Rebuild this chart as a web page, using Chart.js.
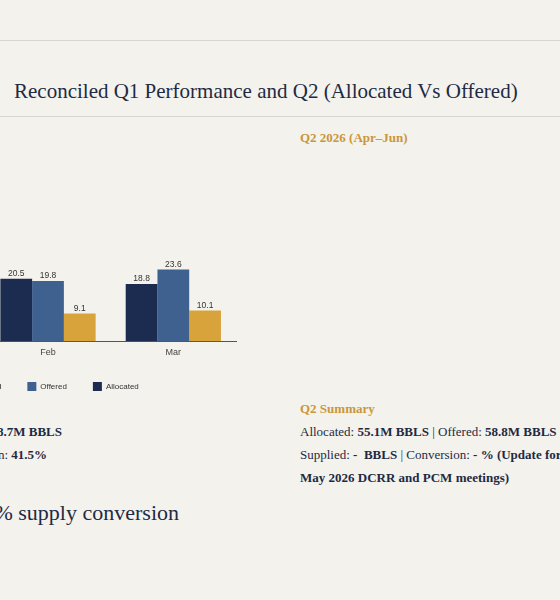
<!DOCTYPE html>
<html><head><meta charset="utf-8">
<script src="https://cdn.jsdelivr.net/npm/chart.js@4/dist/chart.umd.min.js"></script>
<style>
body{margin:0;width:560px;height:600px;background:#f4f2ed;overflow:hidden;position:relative;font-family:"Liberation Serif",serif;color:#1e2a44}
.t{position:absolute;white-space:nowrap}
.r{text-align:right}
b{font-weight:bold}
</style></head><body>
<div class="t" style="left:0;top:40px;width:560px;border-top:1px solid #d8d5cc"></div>
<div class="t" style="left:14px;top:79px;font-size:21px">Reconciled Q1 Performance and Q2 (Allocated Vs Offered)</div>
<div class="t" style="left:0;top:116px;width:560px;border-top:1px solid #d8d5cc"></div>
<div class="t" style="left:300px;top:130px;font-size:13px;color:#c9973a;font-weight:bold">Q2 2026 (Apr–Jun)</div>
<div style="position:absolute;left:-140px;top:173px;width:390px;height:228px"><canvas id="c"></canvas></div>
<div class="t r" style="right:498px;top:424px;font-size:13px">Allocated: <b>57.7M BBLS</b> | Offered: <b>58.7M BBLS</b></div>
<div class="t r" style="right:513px;top:447px;font-size:13px">Supplied: <b>24.4M BBLS</b> | Conversion: <b>41.5%</b></div>
<div class="t r" style="right:381px;top:500px;font-size:22px">Q1 closed at 41.5% supply conversion</div>
<div class="t" style="left:300px;top:401px;font-size:13px;color:#c9973a;font-weight:bold">Q2 Summary</div>
<div class="t" style="left:300px;top:424px;font-size:13px">Allocated: <b>55.1M BBLS</b> | Offered: <b>58.8M BBLS</b></div>
<div class="t" style="left:300px;top:447px;font-size:13px">Supplied: <b>-&nbsp; BBLS</b> | Conversion: <b>- % (Update for</b></div>
<div class="t" style="left:300px;top:470px;font-size:13px"><b>May 2026 DCRR and PCM meetings)</b></div>
<script>
const months = ['Jan', 'Feb', 'Mar'];
const allocated = [18.4, 20.5, 18.8];
const offered = [15.3, 19.8, 23.6];
const supplied = [5.2, 9.1, 10.1];

const barLabels = {
  id: 'barLabels',
  afterDatasetsDraw(chart) {
    const ctx = chart.ctx;
    ctx.save();
    ctx.font = '8.5px "Liberation Sans", Arial';
    ctx.fillStyle = '#333';
    ctx.textAlign = 'center';
    chart.data.datasets.forEach((ds, i) => {
      chart.getDatasetMeta(i).data.forEach((bar, j) => {
        ctx.fillText(ds.data[j].toFixed(1), bar.x, bar.y - 5);
      });
    });
    ctx.restore();
  }
};

new Chart(document.getElementById('c'), {
  type: 'bar',
  data: {
    labels: months,
    datasets: [
      { label: 'Allocated', data: allocated, backgroundColor: '#1c2b50' },
      { label: 'Offered', data: offered, backgroundColor: '#3f6190' },
      { label: 'Supplied', data: supplied, backgroundColor: '#d9a33c' }
    ]
  },
  options: {
    responsive: true, maintainAspectRatio: false, animation: false,
    layout: { padding: { right: 14, top: 10 } },
    datasets: { bar: { categoryPercentage: 0.76, barPercentage: 1 } },
    scales: {
      x: { grid: { display: false }, border: { color: '#555' },
           ticks: { color: '#444', font: { size: 9, family: '"Liberation Sans"' }, padding: -2 } },
      y: { display: false, min: 0, max: 52 }
    },
    plugins: {
      legend: { position: 'bottom', reverse: true,
        labels: { boxWidth: 9, boxHeight: 9, padding: 26, color: '#333', font: { size: 8, family: '"Liberation Sans"' } } },
      tooltip: { enabled: false }
    }
  },
  plugins: [barLabels]
});
</script>
</body></html>
